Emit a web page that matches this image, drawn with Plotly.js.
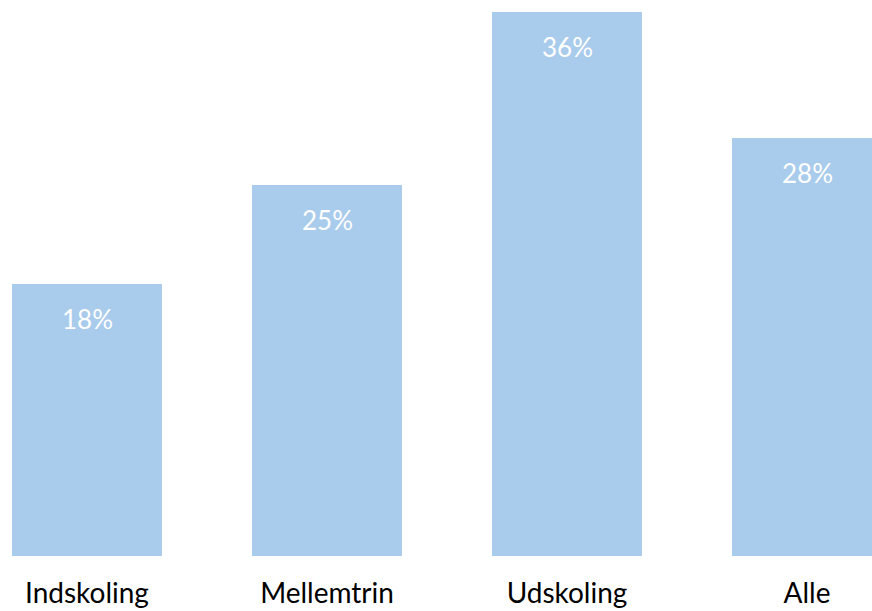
<!DOCTYPE html>
<html>
<head>
<meta charset="utf-8">
<script src="https://cdn.plot.ly/plotly-3.0.1.min.js"></script>
<style>html,body{margin:0;padding:0;background:#fff;}#chart{width:872px;height:611px;}</style>
</head>
<body>
<div id="chart"></div>
<script>
var categories = ["Indskoling", "Mellemtrin", "Udskoling", "Alle"];
var shares = [0.18, 0.2455, 0.36, 0.2766];
var labels = ["18%", "25%", "36%", "28%"];

var trace = {
  type: "bar",
  x: categories,
  y: shares,
  marker: {color: "#A9CBEC"},
  hoverinfo: "none"
};

var annotations = categories.map(function (c, i) {
  return {
    x: c, y: shares[i], xref: "x", yref: "y",
    text: labels[i], showarrow: false,
    yanchor: "top", yshift: -17,
    font: {family: "Lato, 'Noto Sans', sans-serif", size: 26, color: "#ffffff"}
  };
});

var layout = {
  width: 872, height: 611,
  margin: {l: 0, r: 0, t: 0, b: 55, pad: 0},
  paper_bgcolor: "#ffffff", plot_bgcolor: "#ffffff",
  bargap: 0.375,
  showlegend: false,
  xaxis: {
    type: "category",
    range: [-0.3625, 3.2708],
    showgrid: false, zeroline: false, showline: false, ticks: "",
    tickfont: {family: "Lato, 'Noto Sans', sans-serif", size: 28, color: "#000000"},
    ticklabelstandoff: 18
  },
  yaxis: {
    range: [0, 0.368],
    visible: false, showgrid: false, zeroline: false
  },
  annotations: annotations
};

Plotly.newPlot("chart", [trace], layout, {staticPlot: true, displayModeBar: false});
</script>
</body>
</html>
